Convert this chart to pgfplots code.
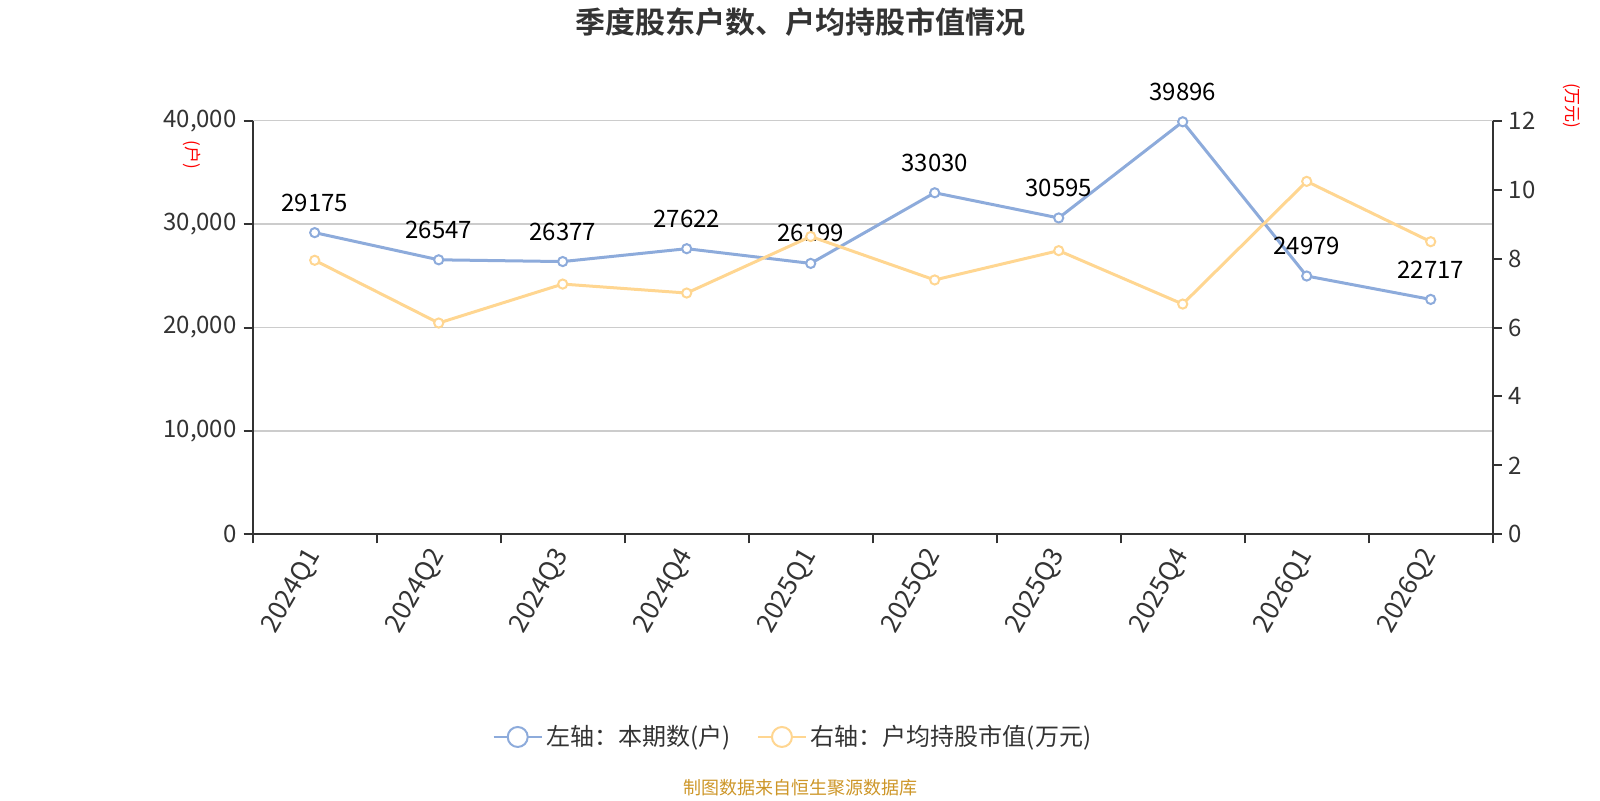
\documentclass[border=0pt]{standalone}
\usepackage{pgfplots}
\pgfplotsset{compat=1.18}
\usepackage{fontspec}
\setmainfont{Noto Sans CJK SC}[BoldFont={Noto Sans CJK SC Bold}]
\definecolor{cblue}{RGB}{141,171,219}
\definecolor{cyellow}{RGB}{255,214,145}
\definecolor{ctext}{RGB}{51,51,51}
\definecolor{cgrid}{RGB}{204,204,204}
\definecolor{cfoot}{RGB}{205,150,40}
\pgfplotstableread{
x y lab
0 29175 29175
1 26547 26547
2 26377 26377
3 27622 27622
4 26199 26199
5 33030 33030
6 30595 30595
7 39896 39896
8 24979 24979
9 22717 22717
}\holders
\pgfplotstableread{
x y
0 7.95
1 6.13
2 7.26
3 7.00
4 8.64
5 7.38
6 8.23
7 6.68
8 10.24
9 8.49
}\avgval
\begin{document}
\begin{tikzpicture}
\path[use as bounding box] (0,0) rectangle (800pt,400pt);
\pgfplotsset{
 common/.style={
  scale only axis, width=620pt, height=206.8pt,
  at={(126.35pt,132.85pt)}, anchor=south west,
  xmin=-0.5, xmax=9.5,
  tick align=outside,
  major tick length=4.5pt, minor tick length=4.5pt,
  axis line style={ctext, line width=1pt},
  tick style={ctext, line width=1pt},
  ticklabel style={font=\fontsize{12pt}{14pt}\selectfont, text=ctext},
  /pgf/number format/assume math mode=true,
  clip=false,
 }
}
\begin{axis}[common,
  axis y line*=left, axis x line*=bottom,
  ymin=0, ymax=40000, ytick={0,10000,20000,30000,40000},
  scaled y ticks=false,
  yticklabel style={/pgf/number format/.cd, fixed, 1000 sep={,}},
  ymajorgrids, grid style={cgrid, line width=0.7pt},
  xtick={0,1,2,3,4,5,6,7,8,9},
  xticklabels={2024Q1,2024Q2,2024Q3,2024Q4,2025Q1,2025Q2,2025Q3,2025Q4,2026Q1,2026Q2},
  minor xtick={-0.5,0.5,1.5,2.5,3.5,4.5,5.5,6.5,7.5,8.5,9.5},
  major x tick style={draw=none},
  xticklabel style={rotate=60, anchor=east, yshift=-2pt,
    font=\fontsize{13pt}{15pt}\selectfont},
]
\addplot[cblue, line width=1.5pt, mark=*, mark size=2.3pt,
  mark options={fill=white, line width=1pt},
  nodes near coords, point meta=explicit symbolic,
  every node near coord/.append style={anchor=center, yshift=15pt, text=black,
    font=\fontsize{12pt}{14pt}\selectfont}]
  table[x=x, y=y, meta=lab]{\holders};
\end{axis}
\begin{axis}[common,
  axis y line*=right, axis x line=none,
  ymin=0, ymax=12, ytick={0,2,4,6,8,10,12},
  legend style={at={(0.4365,-0.49)}, anchor=center, draw=none, fill=none,
    legend columns=2, font=\fontsize{12pt}{14pt}\selectfont, text=ctext,
    /tikz/every even column/.append style={column sep=11pt}},
  legend image code/.code={
    \draw[#1, line width=1pt, mark=none] (0pt,0pt) -- (24pt,0pt);
    \draw[#1, line width=1pt, fill=white, mark=none] (12pt,0pt) circle (5pt);
  },
]
\addlegendimage{cblue}
\addlegendentry{左轴：本期数(户)}
\addplot[cyellow, line width=1.5pt, mark=*, mark size=2.3pt,
  mark options={fill=white, line width=1pt}]
  table[x=x, y=y]{\avgval};
\addlegendentry{右轴：户均持股市值(万元)}
\end{axis}
\node[text=ctext, font=\bfseries\fontsize{15pt}{18pt}\selectfont] at (400pt,388.8pt) {季度股东户数、户均持股市值情况};
\node[rotate=-90, text=red, font=\fontsize{8.5pt}{10pt}\selectfont] at (95.85pt,322.5pt) {(户)};
\node[rotate=-90, text=red, font=\fontsize{8.5pt}{10pt}\selectfont] at (785.7pt,347pt) {(万元)};
\node[text=cfoot, font=\fontsize{9pt}{11pt}\selectfont] at (400pt,6pt) {制图数据来自恒生聚源数据库};
\end{tikzpicture}
\end{document}
